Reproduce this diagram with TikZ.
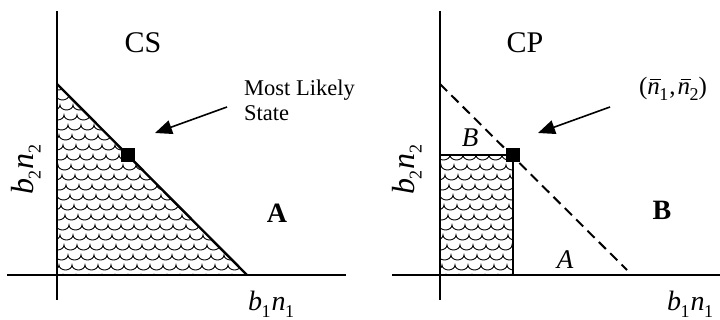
\documentclass[tikz,border=0pt]{standalone}
\usepackage{fontspec}
\setmainfont{Liberation Serif}
\usetikzlibrary{arrows.meta, positioning}
\tikzset{
  axis/.style={line width=2pt},
  bound/.style={line width=2.4pt},
  dashbound/.style={line width=2pt, dash pattern=on 10pt off 6pt},
  boxline/.style={line width=1.4pt},
  statebox/.style={rectangle, fill=black, minimum size=14pt, inner sep=0pt},
  pointer/.style={-{Triangle[length=17pt,width=14pt]}, line width=1.6pt},
  shingle/.style={line width=0.9pt, black},
  big/.style={font=\fontsize{30}{32}\selectfont, inner sep=0pt},
  small/.style={font=\fontsize{22.5}{25}\selectfont, inner sep=0pt},
  axlabel/.style={font=\fontsize{28}{30}\selectfont, inner sep=0pt}
}
\newcommand{\sub}[1]{\kern-0.5pt\raisebox{-0.22em}{\fontsize{18}{18}\selectfont #1}}
\newcommand{\bn}[1]{\textit{b}\sub{#1}\kern1pt\textit{n}\sub{#1}}
\newcommand{\nbar}{\makebox[0pt][l]{\kern3pt\rule[0.58em]{0.42em}{1pt}}\textit{n}}
\newcommand{\scaleshatch}[2]{%
  \foreach \r in {0,...,#2}{
    \pgfmathsetmacro\yy{45+\r*10}
    \pgfmathsetmacro\xx{#1-mod(\r*4,13)}
    \draw[shingle] (\xx,\yy) \foreach \c in {0,...,16}{ arc[start angle=180, end angle=360, x radius=6.5, y radius=5] };
  }}

\begin{document}
\begin{tikzpicture}[x=1pt, y=1pt]
  \useasboundingbox (0,0) rectangle (720,320);

  % Left panel: CS
  \coordinate (o1) at (57,45);
  \coordinate (top1) at (57,236);
  \coordinate (end1) at (247,45);
  \begin{scope}
    \clip (o1) -- (top1) -- (end1) -- cycle;
    \scaleshatch{50}{20}
  \end{scope}
  \draw[axis] (57,309) -- (57,20);
  \draw[axis] (7,45) -- (346,45);
  \draw[bound] (top1) -- (end1);
  \node[statebox] (mls) at (128,165) {};
  \node[big] (cs) at (143,277) {CS};
  \node[small, align=left, anchor=west] (mltext) at (244,220) {Most Likely\\State};
  \coordinate (tail1) at (227,213);
  \coordinate (head1) at (155,187);
  \draw[pointer] (tail1) -- (head1);
  \node[big, font=\fontsize{28}{30}\selectfont\bfseries] (rega) at (277,107) {A};
  \node[axlabel, font=\fontsize{32}{34}\selectfont, rotate=90] (ylab1) at (26,150) {\bn{2}};
  \node[axlabel, anchor=base] (xlab1) at (271,9) {\bn{1}};

  % Right panel: CP
  \coordinate (o2) at (440,45);
  \coordinate (top2) at (440,236);
  \coordinate (end2) at (627,50);
  \coordinate (corner2) at (513,165);
  \begin{scope}
    \clip (o2) rectangle (corner2);
    \scaleshatch{433}{13}
  \end{scope}
  \draw[boxline] (440,165) -- (corner2) -- (513,45);
  \draw[axis] (440,309) -- (440,20);
  \draw[axis] (392,45) -- (720,45);
  \draw[dashbound] (top2) -- (end2);
  \node[statebox] (avg) at (corner2) {};
  \node[big] (cp) at (525,277) {CP};
  \node[small, font=\fontsize{25}{28}\selectfont] (avgtext) at (673,231) {(\nbar\sub{1}\kern1pt,\kern2pt\nbar\sub{2})};
  \coordinate (tail2) at (610,213);
  \coordinate (head2) at (538,187);
  \draw[pointer] (tail2) -- (head2);
  \node[big, font=\fontsize{28}{30}\selectfont\bfseries] (regb) at (662,110) {B};
  \node[big, font=\fontsize{27}{30}\selectfont\itshape] (subb) at (470,182) {B};
  \node[big, font=\fontsize{27}{30}\selectfont\itshape] (suba) at (565,60) {A};
  \node[axlabel, font=\fontsize{32}{34}\selectfont, rotate=90] (ylab2) at (407,150) {\bn{2}};
  \node[axlabel, anchor=base] (xlab2) at (690,9) {\bn{1}};
\end{tikzpicture}
\end{document}
